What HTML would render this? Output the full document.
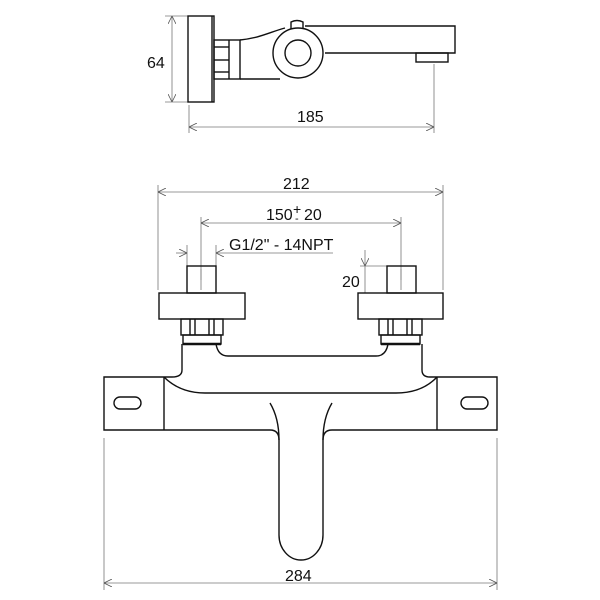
<!DOCTYPE html>
<html><head><meta charset="utf-8"><style>
html,body{margin:0;padding:0;background:#fff;}
svg{display:block;}
text{font-family:"Liberation Sans",sans-serif;font-size:16px;fill:#111;}
</style></head><body>
<svg width="600" height="600" viewBox="0 0 600 600" xmlns="http://www.w3.org/2000/svg">
<defs>
<marker id="a" viewBox="0 0 10 10" refX="10" refY="5" markerWidth="8" markerHeight="8" orient="auto-start-reverse" markerUnits="userSpaceOnUse">
<path d="M0,0 L10,5 L0,10" fill="none" stroke="#555" stroke-width="1"/>
</marker>
</defs>
<g fill="none" stroke="#777" stroke-width="0.8">
<line x1="165" y1="16" x2="188" y2="16"/><line x1="165" y1="102" x2="188" y2="102"/>
<line x1="172" y1="16" x2="172" y2="102" marker-start="url(#a)" marker-end="url(#a)"/>
<line x1="189" y1="105" x2="189" y2="133"/><line x1="434" y1="64" x2="434" y2="133"/>
<line x1="189" y1="127" x2="434" y2="127" marker-start="url(#a)" marker-end="url(#a)"/>
<line x1="158" y1="185" x2="158" y2="290"/><line x1="443" y1="185" x2="443" y2="290"/>
<line x1="158" y1="192" x2="443" y2="192" marker-start="url(#a)" marker-end="url(#a)"/>
<line x1="201" y1="217" x2="201" y2="280"/><line x1="401" y1="217" x2="401" y2="280"/>
<line x1="201" y1="223" x2="401" y2="223" marker-start="url(#a)" marker-end="url(#a)"/>
<line x1="187" y1="245" x2="187" y2="266"/><line x1="216" y1="245" x2="216" y2="266"/>
<line x1="176" y1="253" x2="187" y2="253" marker-end="url(#a)"/>
<line x1="333" y1="253" x2="216" y2="253" marker-end="url(#a)"/>
<line x1="360" y1="266" x2="387" y2="266"/>
<line x1="365" y1="250" x2="365" y2="266" marker-end="url(#a)"/>
<line x1="365" y1="266" x2="365" y2="293"/>
<line x1="104" y1="438" x2="104" y2="590"/><line x1="497" y1="438" x2="497" y2="590"/>
<line x1="104" y1="583" x2="497" y2="583" marker-start="url(#a)" marker-end="url(#a)"/>
</g>
<g fill="none" stroke="#111" stroke-width="1.4">
<rect x="188" y="16" width="26" height="86"/>
<line x1="212" y1="16" x2="212" y2="102"/>
<rect x="214" y="40" width="26" height="39"/>
<line x1="214" y1="47" x2="229" y2="47"/><line x1="214" y1="60" x2="229" y2="60"/><line x1="214" y1="72" x2="229" y2="72"/>
<line x1="229" y1="40" x2="229" y2="79"/>
<path d="M240,40 C260,38 270,32 285,28"/>
<path d="M240,79 L280,79"/>
<path d="M305,26 L455,26 L455,53 L325,53"/>
<circle cx="298" cy="53" r="25"/>
<circle cx="298" cy="53" r="13"/>
<path d="M291,29 L291,22 Q297,19 303,22 L303,28"/>
<rect x="416" y="53" width="32" height="9"/>
<rect x="187" y="266" width="29" height="27"/><rect x="387" y="266" width="29" height="27"/>
<rect x="159" y="293" width="86" height="26"/><rect x="358" y="293" width="85" height="26"/>
<rect x="181" y="319" width="42" height="16"/><rect x="379" y="319" width="43" height="16"/>
<line x1="190" y1="319" x2="190" y2="335"/><line x1="195" y1="319" x2="195" y2="335"/>
<line x1="209" y1="319" x2="209" y2="335"/><line x1="214" y1="319" x2="214" y2="335"/>
<line x1="388" y1="319" x2="388" y2="335"/><line x1="393" y1="319" x2="393" y2="335"/>
<line x1="407" y1="319" x2="407" y2="335"/><line x1="412" y1="319" x2="412" y2="335"/>
<rect x="183" y="335" width="38" height="9"/><rect x="381" y="335" width="39" height="9"/>
<line x1="183" y1="344" x2="221" y2="344" stroke-width="2.5"/><line x1="381" y1="344" x2="420" y2="344" stroke-width="2.5"/>
<path d="M182,344 L182,370 Q182,377 172,377 L104,377 L104,430 L270,430 Q279,430 279,440 L279,535 A22,25 0 0 0 323,535 L323,440 Q323,430 332,430 L497,430 L497,377 L430,377 Q422,377 422,370 L422,344"/>
<path d="M216,344 Q218,356 228,356 L376,356 Q386,356 388,344"/>
<path d="M164,377 L164,430"/><path d="M437,377 L437,430"/>
<path d="M164,377 Q180,393 205,393 L396,393 Q422,393 437,377"/>
<path d="M270,403 Q279,418 279,440"/><path d="M332,403 Q323,418 323,440"/>
<rect x="114" y="397" width="27" height="12" rx="6"/>
<rect x="461" y="397" width="27" height="12" rx="6"/>
</g>
<g stroke="#777" stroke-width="0.8">
<line x1="201" y1="269" x2="201" y2="290"/><line x1="401" y1="269" x2="401" y2="290"/>
</g>
<text x="147" y="68">64</text>
<text x="297" y="122">185</text>
<text x="283" y="189">212</text>
<text x="266" y="220">150</text><text x="293" y="214" style="font-size:14px">+</text><text x="295" y="222" style="font-size:11px">-</text><text x="304" y="220">20</text>
<text x="229" y="250">G1/2" - 14NPT</text>
<text x="342" y="287">20</text>
<text x="285" y="581">284</text>
</svg>
</body></html>
